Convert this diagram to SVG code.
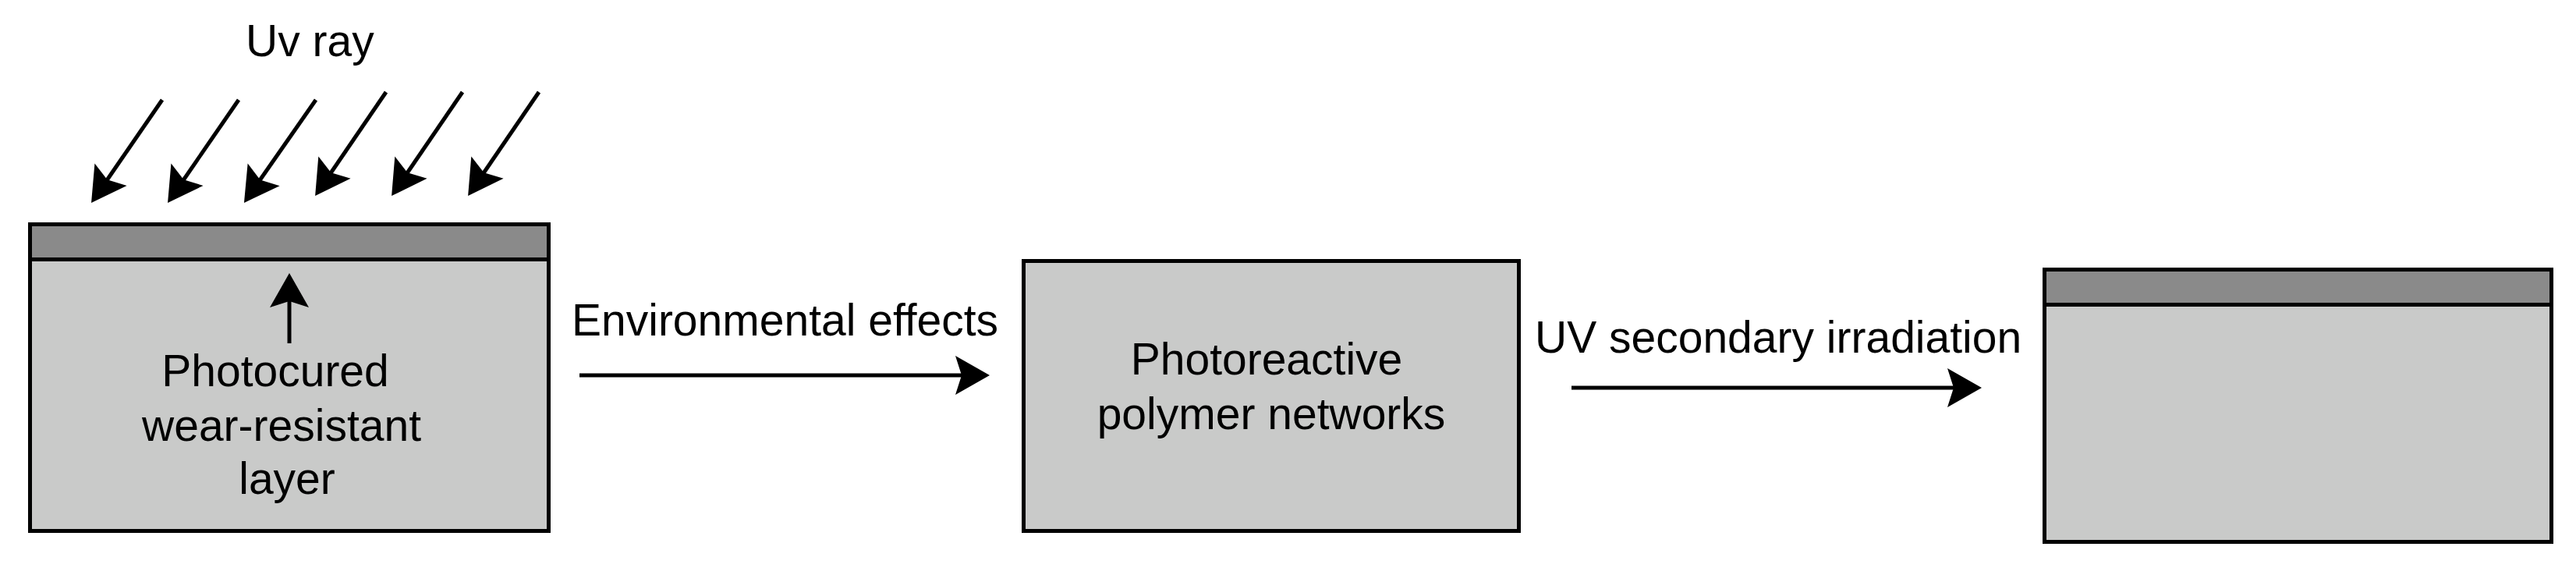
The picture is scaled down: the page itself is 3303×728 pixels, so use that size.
<svg xmlns="http://www.w3.org/2000/svg" width="3303" height="728" viewBox="0 0 3303 728">
<style>
.box{fill:#c9cac9;stroke:#000;stroke-width:5}
.band{fill:#8a8a8a;stroke:#000;stroke-width:5}
.lbl{font-family:"Liberation Sans",Arial,sans-serif;font-size:57px;fill:#000}
.c{text-anchor:middle}
.ln{stroke:#000;stroke-width:5;fill:none;marker-end:url(#ah)}
</style>
<defs>
<marker id="ah" markerUnits="userSpaceOnUse" viewBox="-30 -30 60 60" markerWidth="60" markerHeight="60" refX="0" refY="0" orient="auto">
<path d="M20,0 L-24,-25 L-16,0 L-24,25 Z" fill="#000"/>
</marker>
</defs>
<rect width="3303" height="728" fill="#fff"/>
<g id="uv-label">
<text class="lbl" x="315" y="72">Uv ray</text>
</g>
<g id="node-photocured">
<rect class="box" x="38.5" y="287.5" width="665" height="393"/>
<rect class="band" x="38.5" y="287.5" width="665" height="45"/>
<text class="lbl c" x="353" y="495">Photocured</text>
<text class="lbl c" x="361" y="565">wear-resistant</text>
<text class="lbl c" x="368" y="633">layer</text>
</g>
<g id="node-photoreactive">
<rect class="box" x="1312.5" y="334.5" width="635" height="346"/>
<text class="lbl c" x="1624" y="480">Photoreactive</text>
<text class="lbl c" x="1630" y="550">polymer networks</text>
</g>
<g id="node-result">
<rect class="box" x="2621.5" y="345.5" width="650" height="349"/>
<rect class="band" x="2621.5" y="345.5" width="650" height="45"/>
</g>
<g id="connectors">
<line class="ln" x1="208" y1="128" x2="128.4" y2="243.5"/>
<line class="ln" x1="306" y1="128" x2="226.4" y2="243.5"/>
<line class="ln" x1="405" y1="128" x2="324.4" y2="243.5"/>
<line class="ln" x1="495" y1="118" x2="415.4" y2="234.5"/>
<line class="ln" x1="593" y1="118" x2="513.4" y2="234.5"/>
<line class="ln" x1="691" y1="118" x2="611.4" y2="234.5"/>
<line class="ln" x1="371" y1="440" x2="371" y2="370"/>
<line class="ln" x1="743" y1="481" x2="1249" y2="481"/>
<text class="lbl" x="733" y="430">Environmental effects</text>
<line class="ln" x1="2015" y1="497" x2="2521" y2="497"/>
<text class="lbl" x="1968" y="452">UV secondary irradiation</text>
</g>
</svg>
